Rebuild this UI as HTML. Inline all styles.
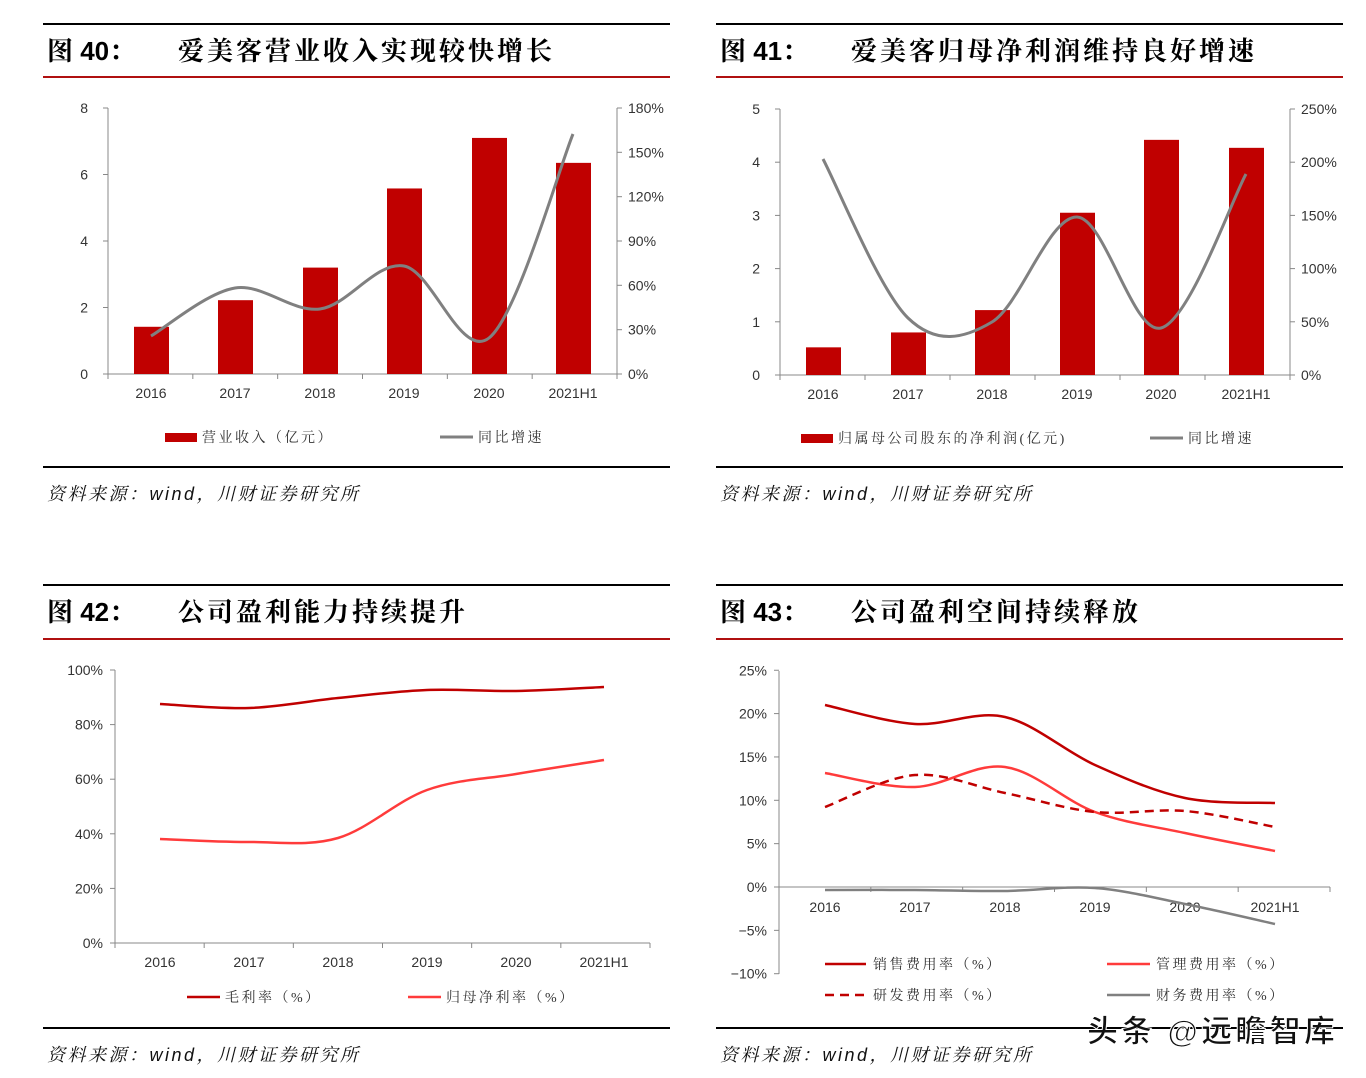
<!DOCTYPE html>
<html><head><meta charset="utf-8">
<style>
html,body{margin:0;padding:0;background:#fff;}
svg{display:block;}
text{font-family:"Liberation Sans","Noto Sans CJK SC",sans-serif;}
.t{font-size:14px;fill:#333;}
.ttl{font-size:26px;font-weight:bold;fill:#000;font-family:"Liberation Sans","Noto Serif CJK SC","Noto Sans CJK SC",sans-serif;}
.tc{letter-spacing:3px;}
.lg{font-size:14px;fill:#333;letter-spacing:2.5px;font-family:"Liberation Serif","Noto Serif CJK SC",serif;}
.src{font-size:18px;font-style:italic;fill:#111;letter-spacing:2.5px;font-family:"Liberation Sans","Noto Serif CJK SC",sans-serif;}
</style></head><body>
<svg id="s" width="1366" height="1078" viewBox="0 0 1366 1078" xmlns="http://www.w3.org/2000/svg">
<g id="g"></g>
<g stroke-width="2">
<line x1="43" y1="24" x2="670" y2="24" stroke="#000"/>
<line x1="43" y1="77" x2="670" y2="77" stroke="#b01010"/>
<line x1="43" y1="467" x2="670" y2="467" stroke="#000"/>
<line x1="716" y1="24" x2="1343" y2="24" stroke="#000"/>
<line x1="716" y1="77" x2="1343" y2="77" stroke="#b01010"/>
<line x1="716" y1="467" x2="1343" y2="467" stroke="#000"/>
<line x1="43" y1="585" x2="670" y2="585" stroke="#000"/>
<line x1="43" y1="639" x2="670" y2="639" stroke="#b01010"/>
<line x1="43" y1="1028" x2="670" y2="1028" stroke="#000"/>
<line x1="716" y1="585" x2="1343" y2="585" stroke="#000"/>
<line x1="716" y1="639" x2="1343" y2="639" stroke="#b01010"/>
<line x1="716" y1="1028" x2="1343" y2="1028" stroke="#000"/>
</g>
<text class="ttl" x="47" y="60">图 40：</text><text class="ttl tc" x="178" y="60">爱美客营业收入实现较快增长</text>
<text class="ttl" x="720" y="60">图 41：</text><text class="ttl tc" x="851" y="60">爱美客归母净利润维持良好增速</text>
<text class="ttl" x="47" y="621">图 42：</text><text class="ttl tc" x="178" y="621">公司盈利能力持续提升</text>
<text class="ttl" x="720" y="621">图 43：</text><text class="ttl tc" x="851" y="621">公司盈利空间持续释放</text>
<text class="src" x="47" y="500">资料来源：wind，川财证券研究所</text>
<text class="src" x="720" y="500">资料来源：wind，川财证券研究所</text>
<text class="src" x="47" y="1061">资料来源：wind，川财证券研究所</text>
<text class="src" x="720" y="1061">资料来源：wind，川财证券研究所</text>
<text x="1087" y="1042" font-size="31" font-weight="bold" fill="#111" stroke="#fff" stroke-width="1" textLength="248" font-family="'Noto Sans CJK SC',sans-serif">头条 @远瞻智库</text>
</svg>
<script>
var g=document.getElementById('g'),NS='http://www.w3.org/2000/svg';
function el(t,a,txt){var e=document.createElementNS(NS,t);for(var k in a)e.setAttribute(k,a[k]);if(txt!=null)e.textContent=txt;g.appendChild(e);return e;}
function smooth(p){var d='M'+p[0][0]+','+p[0][1];for(var i=0;i<p.length-1;i++){var p0=p[i-1]||p[i],p1=p[i],p2=p[i+1],p3=p[i+2]||p2;var t=6;
d+=' C'+(p1[0]+(p2[0]-p0[0])/t)+','+(p1[1]+(p2[1]-p0[1])/t)+' '+(p2[0]-(p3[0]-p1[0])/t)+','+(p2[1]-(p3[1]-p1[1])/t)+' '+p2[0]+','+p2[1];}return d;}
var X=['2016','2017','2018','2019','2020','2021H1'];
function ticks(x,ys,labels,anchor,dx){ys.forEach(function(y,i){el('line',{x1:x-(anchor=='end'?5:0),x2:x+(anchor=='end'?0:5),y1:y,y2:y,stroke:'#888'});el('text',{x:x+dx,y:y+5,'text-anchor':anchor,'class':'t'},labels[i]);});}
(function(){var L=108,R=617,B=374,T=108;el('line',{x1:L,y1:T,x2:L,y2:B,stroke:'#888'});el('line',{x1:R,y1:T,x2:R,y2:B,stroke:'#888'});el('line',{x1:L,y1:B,x2:R,y2:B,stroke:'#888'});
var ys=[374,307.5,241,174.5,108];ticks(L,ys,['0','2','4','6','8'],'end',-20);
var ys2=[374,329.7,285.3,241,196.7,152.3,108];ticks(R,ys2,['0%','30%','60%','90%','120%','150%','180%'],'start',11);
var cx=[151,235,320,404,489,573],v=[1.42,2.22,3.2,5.58,7.1,6.35];
for(var i=0;i<=6;i++){var xx=L+i*(R-L)/6;el('line',{x1:xx,x2:xx,y1:B,y2:B+5,stroke:'#888'});}
cx.forEach(function(c,i){var h=v[i]*33.25;el('rect',{x:c-17,y:B-h,width:35,height:h,fill:'#c00000'});el('text',{x:c,y:398,'text-anchor':'middle','class':'t'},X[i]);});
el('path',{d:smooth([[151,336],[235,288],[320,309],[404,266],[489,338],[573,134]]),fill:'none',stroke:'#808080','stroke-width':3});
el('rect',{x:165,y:433,width:32,height:9,fill:'#c00000'});el('text',{x:202,y:442,'class':'lg'},'营业收入（亿元）');
el('line',{x1:440,x2:473,y1:437,y2:437,stroke:'#808080','stroke-width':3});el('text',{x:478,y:442,'class':'lg'},'同比增速');})();
(function(){var L=780,R=1290,B=375,T=109;el('line',{x1:L,y1:T,x2:L,y2:B,stroke:'#888'});el('line',{x1:R,y1:T,x2:R,y2:B,stroke:'#888'});el('line',{x1:L,y1:B,x2:R,y2:B,stroke:'#888'});
var ys=[375,321.8,268.6,215.4,162.2,109];ticks(L,ys,['0','1','2','3','4','5'],'end',-20);
ticks(R,ys,['0%','50%','100%','150%','200%','250%'],'start',11);
for(var i=0;i<=6;i++){var xx=L+i*(R-L)/6;el('line',{x1:xx,x2:xx,y1:B,y2:B+5,stroke:'#888'});}
var cx=[823,908,992,1077,1161,1246],v=[0.52,0.8,1.22,3.05,4.42,4.27];
cx.forEach(function(c,i){var h=v[i]*53.2;el('rect',{x:c-17,y:B-h,width:35,height:h,fill:'#c00000'});el('text',{x:c,y:399,'text-anchor':'middle','class':'t'},X[i]);});
el('path',{d:smooth([[823,159],[908,318],[992,322],[1077,217],[1161,328],[1246,174]]),fill:'none',stroke:'#808080','stroke-width':3});
el('rect',{x:801,y:434,width:32,height:9,fill:'#c00000'});el('text',{x:838,y:443,'class':'lg'},'归属母公司股东的净利润(亿元)');
el('line',{x1:1150,x2:1183,y1:438,y2:438,stroke:'#808080','stroke-width':3});el('text',{x:1188,y:443,'class':'lg'},'同比增速');})();
(function(){var L=115,R=650,B=943,T=670;el('line',{x1:L,y1:T,x2:L,y2:B,stroke:'#888'});el('line',{x1:L,y1:B,x2:R,y2:B,stroke:'#888'});
var ys=[943,888.4,833.8,779.2,724.6,670];ticks(L,ys,['0%','20%','40%','60%','80%','100%'],'end',-12);
for(var i=0;i<=6;i++){var xx=L+i*(R-L)/6;el('line',{x1:xx,x2:xx,y1:B,y2:B+5,stroke:'#888'});}
var cx=[160,249,338,427,516,604];cx.forEach(function(c,i){el('text',{x:c,y:967,'text-anchor':'middle','class':'t'},X[i]);});
el('path',{d:smooth([[160,704],[249,708],[338,698],[427,690],[516,691],[604,687]]),fill:'none',stroke:'#c00000','stroke-width':2.5});
el('path',{d:smooth([[160,839],[249,842],[338,838],[427,790],[516,774],[604,760]]),fill:'none',stroke:'#ff3b3b','stroke-width':2.5});
el('line',{x1:187,x2:220,y1:997,y2:997,stroke:'#c00000','stroke-width':2.5});el('text',{x:225,y:1002,'class':'lg'},'毛利率（%）');
el('line',{x1:408,x2:441,y1:997,y2:997,stroke:'#ff3b3b','stroke-width':2.5});el('text',{x:446,y:1002,'class':'lg'},'归母净利率（%）');})();
(function(){var L=779,R=1330,Z=887,k=8.67;el('line',{x1:L,y1:671,x2:L,y2:974,stroke:'#888'});el('line',{x1:L,y1:Z,x2:R,y2:Z,stroke:'#888'});
var vals=[25,20,15,10,5,0,-5,-10],ys=vals.map(function(v){return Z-v*k;});ticks(L,ys,['25%','20%','15%','10%','5%','0%','−5%','−10%'],'end',-12);
for(var i=0;i<=6;i++){var xx=L+i*(R-L)/6;el('line',{x1:xx,x2:xx,y1:Z,y2:Z+5,stroke:'#888'});}
var cx=[825,915,1005,1095,1185,1275];cx.forEach(function(c,i){el('text',{x:c,y:912,'text-anchor':'middle','class':'t'},X[i]);});
function P(a){return a.map(function(y,i){return [cx[i],y];});}
el('path',{d:smooth(P([705,724,717,765,798,803])),fill:'none',stroke:'#c00000','stroke-width':2.5});
el('path',{d:smooth(P([773,787,767,812,833,851])),fill:'none',stroke:'#ff3b3b','stroke-width':2.5});
el('path',{d:smooth(P([807,775,793,812,811,827])),fill:'none',stroke:'#c00000','stroke-width':2.5,'stroke-dasharray':'9,6'});
el('path',{d:smooth(P([890,890,891,888,904,924])),fill:'none',stroke:'#808080','stroke-width':2.5});
el('line',{x1:825,x2:866,y1:964,y2:964,stroke:'#c00000','stroke-width':2.5});el('text',{x:873,y:969,'class':'lg'},'销售费用率（%）');
el('line',{x1:1107,x2:1150,y1:964,y2:964,stroke:'#ff3b3b','stroke-width':2.5});el('text',{x:1156,y:969,'class':'lg'},'管理费用率（%）');
el('line',{x1:825,x2:866,y1:995,y2:995,stroke:'#c00000','stroke-width':2.5,'stroke-dasharray':'9,6'});el('text',{x:873,y:1000,'class':'lg'},'研发费用率（%）');
el('line',{x1:1107,x2:1150,y1:995,y2:995,stroke:'#808080','stroke-width':2.5});el('text',{x:1156,y:1000,'class':'lg'},'财务费用率（%）');})();
</script>
</body></html>
